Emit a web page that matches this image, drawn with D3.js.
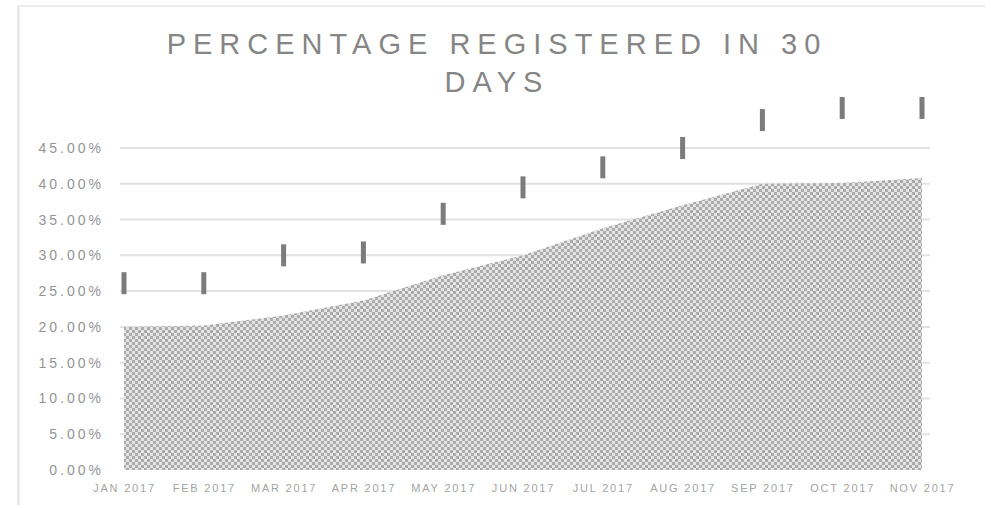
<!DOCTYPE html>
<html><head><meta charset="utf-8">
<script src="https://cdn.jsdelivr.net/npm/d3@7"></script>
<style>html,body{margin:0;padding:0;background:#fff;}svg{display:block;}</style>
</head><body>
<svg id="chart" width="991" height="508"></svg>
<script>
const categories = ["JAN 2017","FEB 2017","MAR 2017","APR 2017","MAY 2017","JUN 2017","JUL 2017","AUG 2017","SEP 2017","OCT 2017","NOV 2017"];
const areaValues = [20.0, 20.2, 21.6, 23.7, 27.2, 30.0, 33.8, 37.0, 40.0, 40.1, 40.8];
const markerValues = [26.1, 26.1, 30.0, 30.4, 35.8, 39.5, 42.3, 45.0, 48.9, 50.6, 50.6];
const yTicks = [0, 5, 10, 15, 20, 25, 30, 35, 40, 45];
const titleLines = ["PERCENTAGE REGISTERED IN 30", "DAYS"];

const svg = d3.select("#chart");
const x = d3.scalePoint().domain(categories).range([124, 922]);
const y = d3.scaleLinear().domain([0, 45]).range([470, 148]);

// chart frame
svg.append("line").attr("x1",18.5).attr("x2",18.5).attr("y1",5).attr("y2",505).attr("stroke","#e2e2e2").attr("stroke-width",2);
svg.append("line").attr("x1",18).attr("x2",985).attr("y1",6).attr("y2",6).attr("stroke","#ececec").attr("stroke-width",2);

// pattern
const defs = svg.append("defs");
const pat = defs.append("pattern").attr("id","chk").attr("width",6).attr("height",6).attr("patternUnits","userSpaceOnUse");
pat.append("rect").attr("width",6).attr("height",6).attr("fill","#e4e4e4");
pat.append("rect").attr("width",3).attr("height",3).attr("fill","#ababab");
pat.append("rect").attr("x",3).attr("y",3).attr("width",3).attr("height",3).attr("fill","#ababab");

// title
svg.append("g").selectAll("text").data(titleLines).join("text")
  .attr("x", 497).attr("y", (d,i)=> 54 + i*38)
  .attr("text-anchor","middle")
  .attr("font-family","'Liberation Sans', Arial, sans-serif")
  .attr("font-size", 29).attr("letter-spacing", 7)
  .attr("fill","#858585").text(d=>d);

// gridlines
svg.append("g").selectAll("line").data(yTicks.slice(1)).join("line")
  .attr("x1",120).attr("x2",930)
  .attr("y1",d=>y(d)).attr("y2",d=>y(d))
  .attr("stroke","#e2e2e2").attr("stroke-width",2);

// y axis
const yAxis = d3.axisLeft(y).tickValues(yTicks).tickSize(0).tickPadding(0)
  .tickFormat(d => d.toFixed(2) + "%");
const gy = svg.append("g").attr("transform","translate(104,0)").call(yAxis);
gy.select(".domain").remove();
gy.selectAll("text").attr("font-family","'Liberation Sans', Arial, sans-serif")
  .attr("font-size",14).attr("letter-spacing",3).attr("fill","#949494");

// area
const area = d3.area().x(d=>x(d.c)).y0(y(0)).y1(d=>y(d.v));
const data = categories.map((c,i)=>({c, v: areaValues[i]}));
svg.append("path").datum(data).attr("d",area).attr("fill","url(#chk)");

// x axis
const xAxis = d3.axisBottom(x).tickSize(0).tickPadding(0);
const gx = svg.append("g").attr("transform","translate(0,484)").call(xAxis);
gx.select(".domain").remove();
gx.selectAll("text").attr("font-family","'Liberation Sans', Arial, sans-serif")
  .attr("font-size",11).attr("letter-spacing",1.8).attr("fill","#a4a4a4");

// markers
svg.append("g").selectAll("rect").data(markerValues).join("rect")
  .attr("x",(d,i)=>x(categories[i]) - 2.5)
  .attr("y",d=>y(d) - 11)
  .attr("width",5).attr("height",22)
  .attr("fill","#7c7c7c");
</script>
</body></html>
